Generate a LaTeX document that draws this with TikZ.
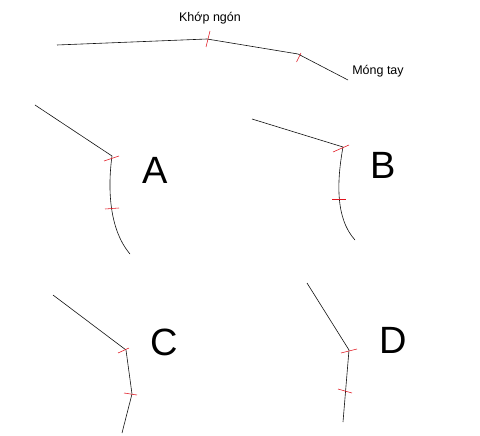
\documentclass[tikz,border=0pt]{standalone}
\usepackage{fontspec}
\setmainfont{Liberation Sans}
\usetikzlibrary{positioning,calc}
\definecolor{ink}{HTML}{111111}
\definecolor{markred}{HTML}{E0141E}
\tikzset{
  bone/.style={draw=ink,line width=0.6pt},
  jointmark/.style={draw=markred,line width=0.55pt},
  caption/.style={font=\fontsize{12.5}{14}\selectfont,inner sep=0pt},
  panelletter/.style={font=\fontsize{38}{40}\selectfont,inner sep=0pt}
}

\begin{document}
\begin{tikzpicture}[x=1pt,y=-1pt]
      \useasboundingbox (0,0) rectangle (480,436);
      % ---- top: the straight finger ----
      \coordinate (t0) at (57,45);
      \coordinate (t1) at (207,39);
      \coordinate (t2) at (298,54);
      \coordinate (t3) at (348,80);
      \draw[bone] (t0) -- (t1) -- (t2) -- (t3);
      \draw[jointmark] (206,47) -- (210,31);
      \draw[jointmark] (296.5,62) -- (301,53);
      \node[caption] (khop) at (210,18) {Khớp ngón};
      \node[caption] (mong) at (378,71) {Móng tay};
      % ---- panel A ----
      \coordinate (a0) at (35,105);
      \coordinate (a1) at (112,156);
      \coordinate (a2) at (130,254);
      \draw[bone] (a0) -- (a1) .. controls (108,185) and (108,228) .. (a2);
      \draw[jointmark] (104,161) -- (119,156);
      \draw[jointmark] (105,209) -- (119,208);
      \node[panelletter] (lblA) at (155,170) {A};
      % ---- panel B ----
      \coordinate (b0) at (252,119);
      \coordinate (b1) at (343,147);
      \coordinate (b2) at (355,240);
      \draw[bone] (b0) -- (b1) .. controls (337,180) and (335,218) .. (b2);
      \draw[jointmark] (333,152) -- (349,145);
      \draw[jointmark] (332,199) -- (346,199);
      \node[panelletter] (lblB) at (383,165) {B};
      % ---- panel C ----
      \coordinate (c0) at (53,295);
      \coordinate (c1) at (126,350);
      \coordinate (c2) at (132,394);
      \coordinate (c3) at (122,433);
      \draw[bone] (c0) -- (c1) -- (c2) -- (c3);
      \draw[jointmark] (118,353) -- (129,348);
      \draw[jointmark] (124,393) -- (137,395);
      \node[panelletter] (lblC) at (164,342) {C};
      % ---- panel D ----
      \coordinate (d0) at (307,283);
      \coordinate (d1) at (349,350);
      \coordinate (d2) at (343,422);
      \draw[bone] (d0) -- (d1) -- (d2);
      \draw[jointmark] (341,353) -- (357,349);
      \draw[jointmark] (338,389) -- (352,393);
      \node[panelletter] (lblD) at (393,340) {D};
    \end{tikzpicture}
\end{document}
